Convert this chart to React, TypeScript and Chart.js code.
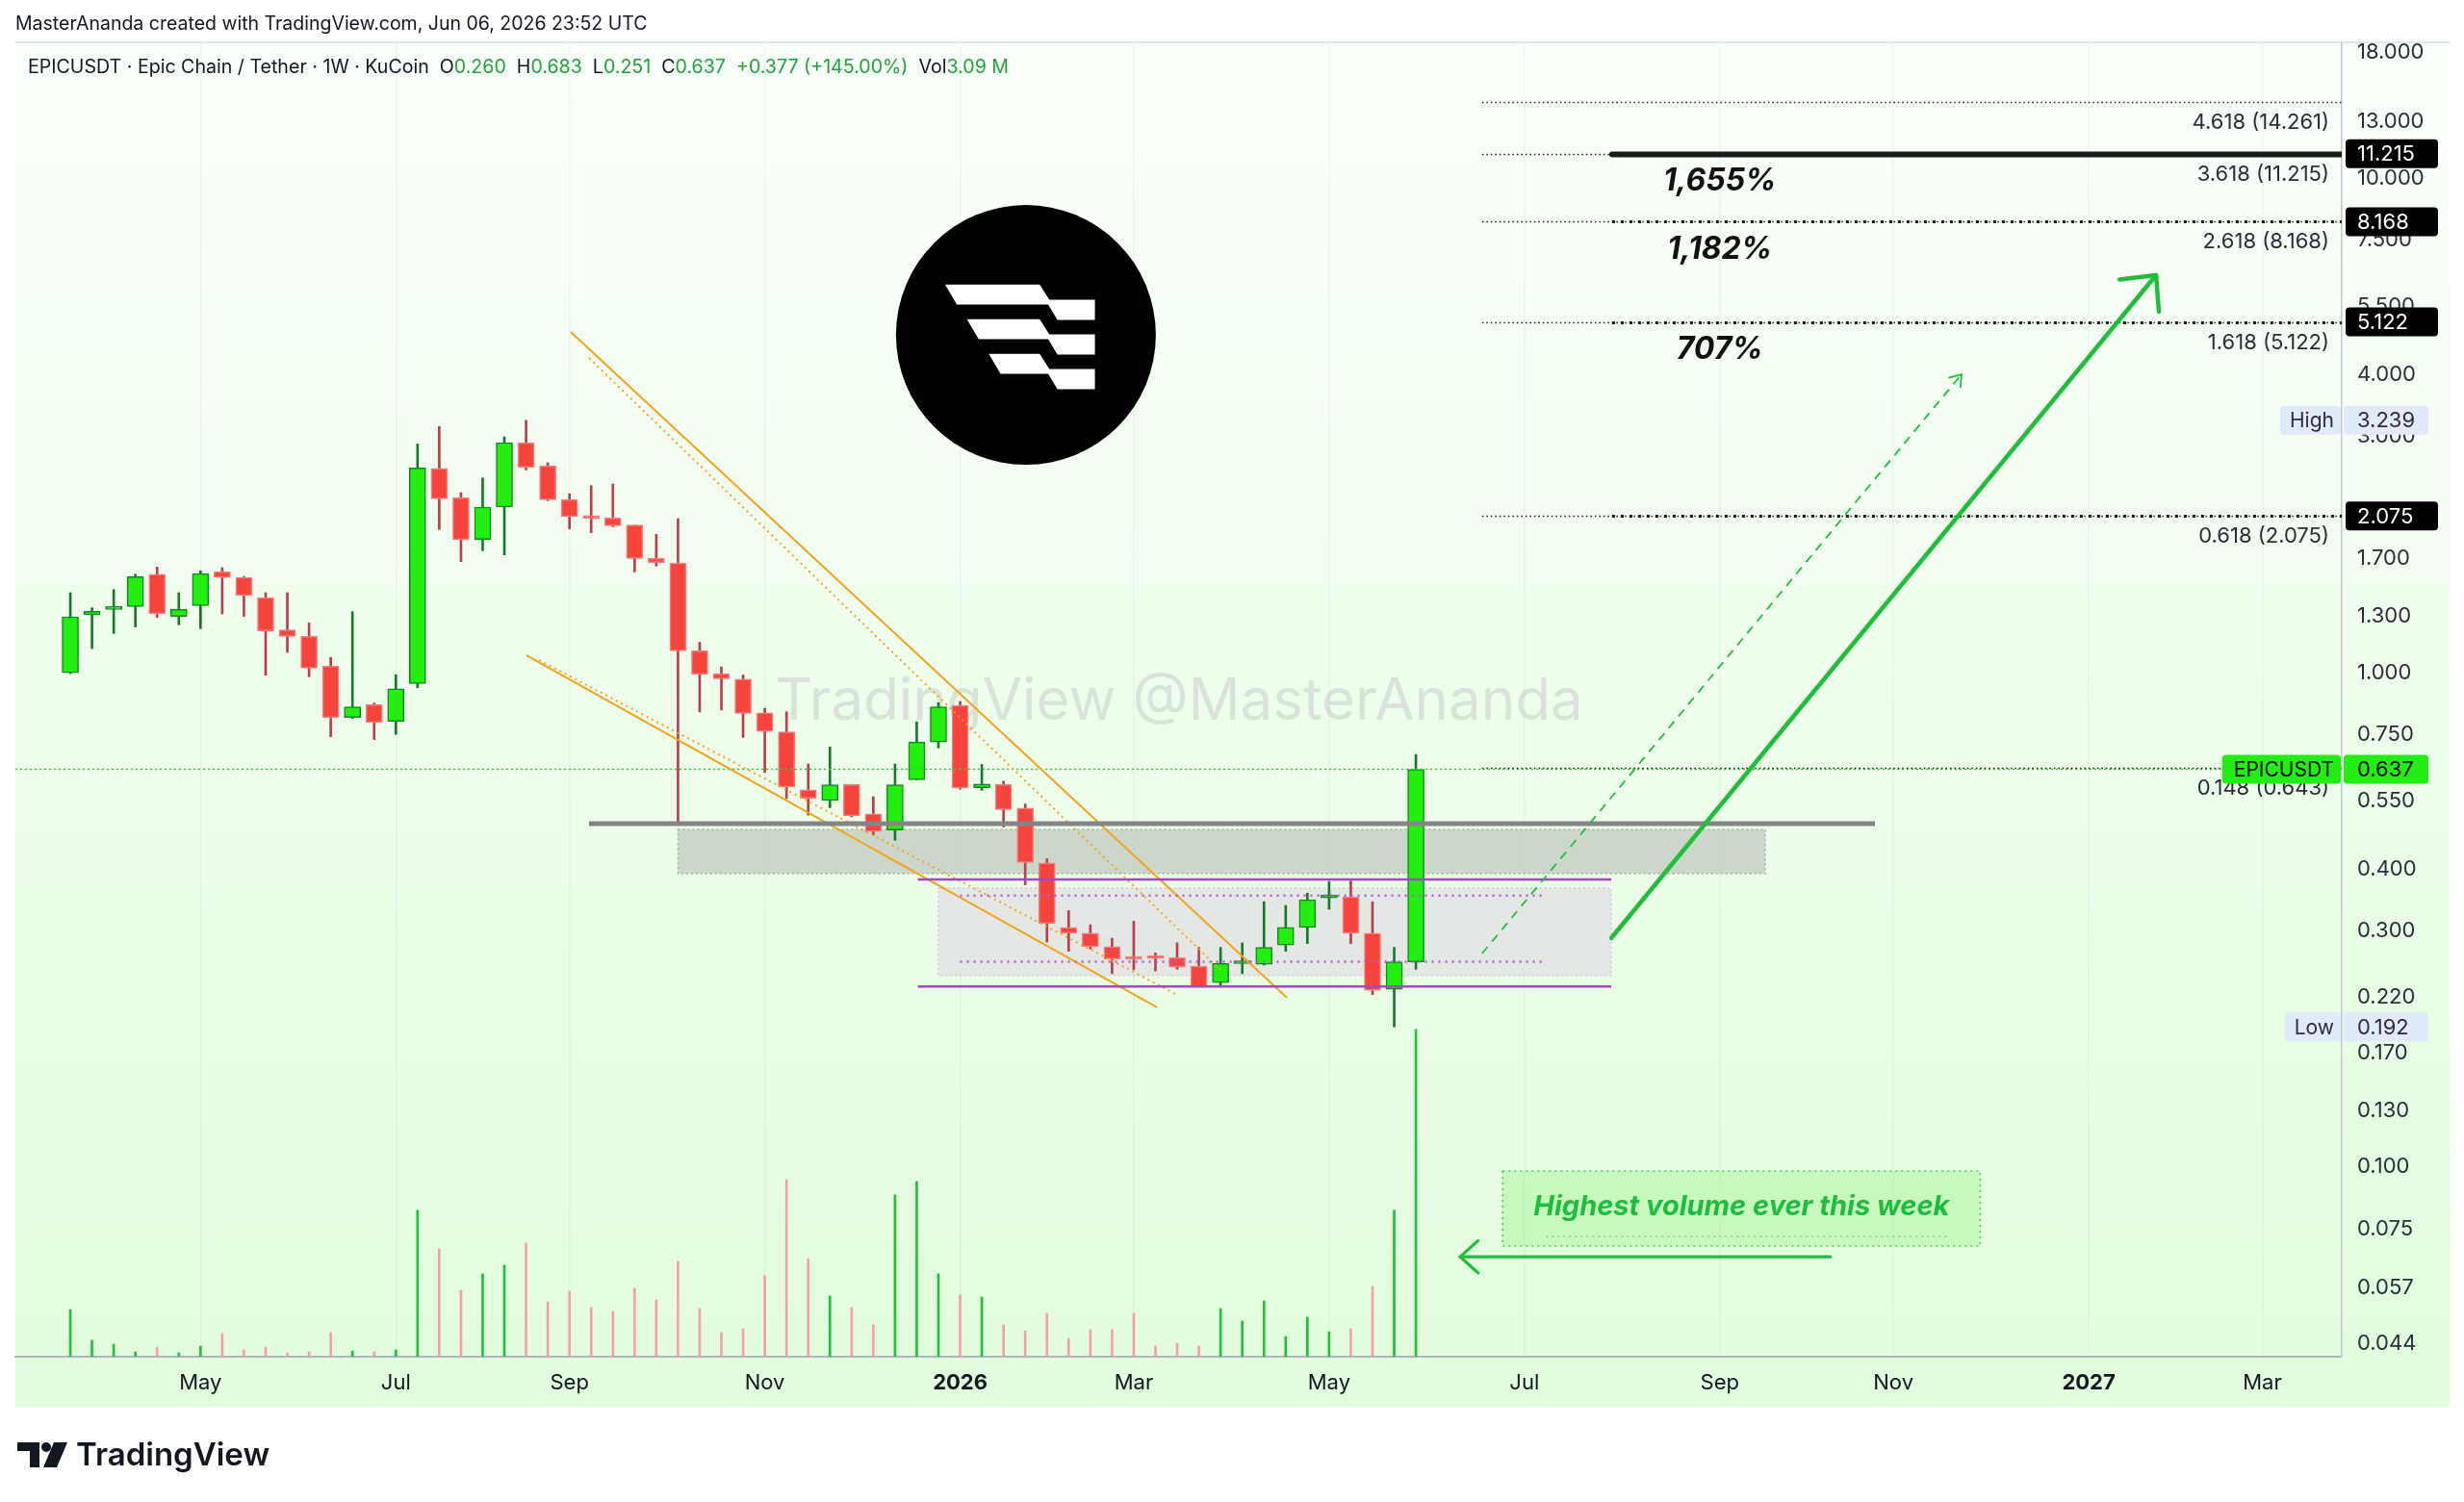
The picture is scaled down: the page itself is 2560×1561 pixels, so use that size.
import React, { useEffect, useRef } from "react";
import { Chart, registerables } from "chart.js";
Chart.register(...registerables);

// ---------- DATA ----------
const firstWeekMonday = "2025-03-24"; // week index 0 (weekly candles)
const opens = [0.999,1.309,1.342,1.360,1.581,1.299,1.366,1.601,1.558,1.418,1.220,1.184,1.030,0.811,0.861,0.797,0.950,2.587,2.257,1.859,2.162,2.919,2.617,2.237,2.076,2.054,1.988,1.702,1.667,1.107,0.9956,0.970,0.829,0.759,0.579,0.551,0.594,0.518,0.480,0.607,0.724,0.858,0.585,0.594,0.532,0.412,0.305,0.297,0.279,0.265,0.266,0.265,0.2547,0.236,0.2577,0.257,0.281,0.305,0.350,0.352,0.297,0.2286,0.260];
const highs = [1.451,1.352,1.472,1.581,1.635,1.451,1.606,1.630,1.565,1.451,1.451,1.261,1.073,1.328,0.868,0.990,2.901,3.146,2.312,2.476,2.998,3.239,2.657,2.301,2.389,2.407,1.988,1.904,2.048,1.152,1.027,0.989,0.847,0.833,0.653,0.707,0.594,0.561,0.653,0.795,0.869,0.874,0.652,0.603,0.542,0.420,0.330,0.309,0.290,0.314,0.271,0.284,0.278,0.278,0.284,0.344,0.338,0.358,0.378,0.379,0.344,0.278,0.683];
const lows = [0.995,1.118,1.200,1.236,1.293,1.249,1.227,1.314,1.299,0.988,1.099,0.981,0.742,0.808,0.732,0.750,0.932,1.947,1.677,1.764,1.730,2.570,2.227,1.952,1.918,1.973,1.598,1.642,0.495,0.832,0.840,0.739,0.628,0.556,0.515,0.533,0.511,0.469,0.458,0.607,0.704,0.581,0.578,0.487,0.372,0.285,0.273,0.276,0.246,0.2504,0.249,0.2512,0.2317,0.2317,0.246,0.256,0.273,0.283,0.332,0.283,0.2232,0.192,0.251];
const closes = [1.297,1.330,1.352,1.563,1.316,1.342,1.586,1.558,1.431,1.214,1.184,1.021,0.811,0.853,0.793,0.927,2.594,2.247,1.856,2.162,2.919,2.601,2.237,2.067,2.051,1.982,1.702,1.669,1.107,0.9925,0.972,0.827,0.760,0.587,0.557,0.593,0.513,0.477,0.593,0.724,0.853,0.584,0.595,0.528,0.413,0.311,0.297,0.279,0.263,0.263,0.264,0.2537,0.2317,0.258,0.260,0.278,0.305,0.347,0.353,0.297,0.2278,0.260,0.637];
const volumesM = [0.445,0.155,0.118,0.045,0.091,0.036,0.100,0.218,0.064,0.091,0.036,0.045,0.227,0.055,0.045,0.064,1.382,1.018,0.627,0.782,0.864,1.073,0.518,0.618,0.464,0.427,0.645,0.536,0.900,0.455,0.227,0.264,0.764,1.673,0.927,0.573,0.464,0.300,1.527,1.655,0.782,0.582,0.564,0.300,0.245,0.409,0.173,0.255,0.255,0.409,0.100,0.127,0.100,0.455,0.336,0.527,0.191,0.373,0.236,0.264,0.664,1.382,3.090];

const monthTickWeeks = [6, 15, 23, 32, 41, 49, 58, 67, 76, 84, 93, 101];
const monthTickLabels = ["May", "Jul", "Sep", "Nov", "2026", "Mar", "May", "Jul", "Sep", "Nov", "2027", "Mar"];
const priceTicks = [18, 13, 10, 7.5, 5.5, 4, 3, 2, 1.7, 1.3, 1, 0.75, 0.55, 0.4, 0.3, 0.22, 0.17, 0.13, 0.1, 0.075, 0.057, 0.044];

const fibRatios = [4.618, 3.618, 2.618, 1.618, 0.618, 0.148];
const fibPrices = [14.261, 11.215, 8.168, 5.122, 2.075, 0.643];
const fibBoxed = [false, true, true, true, true, false];
const fibHeavy = ["none", "solid", "dots", "dots", "dots", "none"];
const gainLabels = ["1,655%", "1,182%", "707%"];
const gainLevels = [11.215, 8.168, 5.122];

const lastPrice = 0.637;
const periodHigh = 3.239;
const periodLow = 0.192;
const symbolName = "EPICUSDT";

const headerTitle = "MasterAnanda created with TradingView.com, Jun 06, 2026 23:52 UTC";
const legendParts: [string, boolean][] = [
  ["EPICUSDT · Epic Chain / Tether · 1W · KuCoin  ", false],
  ["O", false], ["0.260", true], ["  H", false], ["0.683", true], ["  L", false], ["0.251", true],
  ["  C", false], ["0.637", true], ["  +0.377 (+145.00%)", true], ["  Vol", false], ["3.09 M", true],
];

// annotation anchors in data space: [weekIndex, price]
const trendSolid: [number, number][][] = [[[23.06, 4.887], [56.05, 0.220]], [[21.02, 1.084], [50.07, 0.2102]]];
const trendDotted: [number, number][][] = [[[23.9, 4.329], [53.08, 0.248]], [[21.6, 1.060], [51.0, 0.2228]]];
const supportLine = { from: 23.9, to: 83.15, price: 0.495 };
const supportZone = { from: 28.0, to: 78.1, top: 0.4817, bottom: 0.392 };
const rangeBox = { from: 40.0, to: 71.0, top: 0.3665, bottom: 0.2437 };
const rangeLines = { from: 39.05, to: 71.0, prices: [0.3815, 0.2317] };
const rangeMid = { from: 41.0, to: 67.9, prices: [0.354, 0.260] };
const fibStart = 65.05;
const fibHeavyStart = 71.04;
const bigArrow = { from: [71.0, 0.2903], to: [96.1, 6.365] };
const dashArrow = { from: [65.05, 0.2702], to: [87.14, 4.012] };
const volArrow = { from: [81.1, 0.0658], to: [64.04, 0.0658] };
const volNote = { from: 66.0, to: 88.0, top: 0.0981, bottom: 0.0692, text: "Highest volume ever this week" };
const logoAnchor = { x: 44.03, price: 4.82 };
const watermark = { x: 51.09, price: 0.8703, text: "TradingView @MasterAnanda" };

const FONT = "Inter, 'Noto Sans', sans-serif";
const GREEN_TXT = "#22a33a";

function arrowTo(ctx: CanvasRenderingContext2D, x1: number, y1: number, x2: number, y2: number, head: number, angDeg: number) {
  ctx.beginPath();
  ctx.moveTo(x1, y1);
  ctx.lineTo(x2, y2);
  ctx.stroke();
  ctx.setLineDash([]);
  const back = Math.atan2(y1 - y2, x1 - x2);
  const a = (angDeg * Math.PI) / 180;
  ctx.beginPath();
  ctx.moveTo(x2 + Math.cos(back + a) * head, y2 + Math.sin(back + a) * head);
  ctx.lineTo(x2, y2);
  ctx.lineTo(x2 + Math.cos(back - a) * head, y2 + Math.sin(back - a) * head);
  ctx.stroke();
}

function rrect(ctx: CanvasRenderingContext2D, x: number, y: number, w: number, h: number, r: number, fill: string) {
  ctx.fillStyle = fill;
  ctx.beginPath();
  ctx.roundRect(x, y, w, h, r);
  ctx.fill();
}

const overlayPlugin = {
  id: "overlay",
  beforeDraw(chart: any) {
    const { ctx, width, height, chartArea } = chart;
    const xs = chart.scales.x;
    const ys = chart.scales.y;
    ctx.save();
    ctx.fillStyle = "#ffffff";
    ctx.fillRect(0, 0, width, height);
    const top = chartArea.top - 1;
    const bottom = xs.bottom;
    const g = ctx.createLinearGradient(0, top, 0, bottom);
    g.addColorStop(0, "#fbfffb");
    g.addColorStop(1, "#e1fddc");
    ctx.fillStyle = g;
    ctx.fillRect(chartArea.left, top, ys.right - chartArea.left, bottom - top);
    ctx.strokeStyle = "#e3e6ea";
    ctx.lineWidth = 2;
    ctx.beginPath();
    ctx.moveTo(chartArea.left, top);
    ctx.lineTo(ys.right, top);
    ctx.stroke();
    ctx.restore();
  },
  beforeDatasetsDraw(chart: any) {
    const { ctx, chartArea } = chart;
    const X = (v: number) => chart.scales.x.getPixelForValue(v);
    const Y = (v: number) => chart.scales.y.getPixelForValue(v);
    ctx.save();
    ctx.beginPath();
    ctx.rect(chartArea.left, chartArea.top, chartArea.right - chartArea.left, chartArea.bottom - chartArea.top);
    ctx.clip();
    // watermark
    ctx.font = `60px ${FONT}`;
    ctx.fillStyle = "rgba(150,155,150,0.26)";
    ctx.textAlign = "center";
    ctx.textBaseline = "middle";
    ctx.fillText(watermark.text, X(watermark.x), Y(watermark.price));
    // support zone
    {
      const x1 = X(supportZone.from), x2 = X(supportZone.to), y1 = Y(supportZone.top), y2 = Y(supportZone.bottom);
      ctx.fillStyle = "rgba(192,202,190,0.75)";
      ctx.fillRect(x1, y1, x2 - x1, y2 - y1);
      ctx.strokeStyle = "#a7b0a5";
      ctx.lineWidth = 1.5;
      ctx.setLineDash([2, 3]);
      ctx.strokeRect(x1, y1, x2 - x1, y2 - y1);
      ctx.setLineDash([]);
    }
    // range box
    {
      const x1 = X(rangeBox.from), x2 = X(rangeBox.to), y1 = Y(rangeBox.top), y2 = Y(rangeBox.bottom);
      ctx.fillStyle = "rgba(226,228,228,0.85)";
      ctx.fillRect(x1, y1, x2 - x1, y2 - y1);
      ctx.strokeStyle = "rgba(210,170,225,0.8)";
      ctx.lineWidth = 1.2;
      ctx.setLineDash([2, 3]);
      ctx.strokeRect(x1, y1, x2 - x1, y2 - y1);
      ctx.setLineDash([]);
    }
    ctx.restore();
  },
  afterDatasetsDraw(chart: any) {
    const { ctx, chartArea } = chart;
    const X = (v: number) => chart.scales.x.getPixelForValue(v);
    const Y = (v: number) => chart.scales.y.getPixelForValue(v);
    ctx.save();
    ctx.beginPath();
    ctx.rect(chartArea.left, chartArea.top, chartArea.right - chartArea.left, chartArea.bottom - chartArea.top);
    ctx.clip();
    ctx.lineCap = "butt";

    // current price line
    ctx.strokeStyle = "#2ad42a";
    ctx.lineWidth = 1.5;
    ctx.setLineDash([2, 3]);
    ctx.beginPath();
    ctx.moveTo(chartArea.left, Y(lastPrice));
    ctx.lineTo(chartArea.right, Y(lastPrice));
    ctx.stroke();
    ctx.setLineDash([]);

    // orange wedge
    ctx.strokeStyle = "#f7a21b";
    ctx.lineWidth = 2;
    trendSolid.forEach(([a, b]) => {
      ctx.beginPath();
      ctx.moveTo(X(a[0]), Y(a[1]));
      ctx.lineTo(X(b[0]), Y(b[1]));
      ctx.stroke();
    });
    ctx.setLineDash([2, 4]);
    trendDotted.forEach(([a, b]) => {
      ctx.beginPath();
      ctx.moveTo(X(a[0]), Y(a[1]));
      ctx.lineTo(X(b[0]), Y(b[1]));
      ctx.stroke();
    });
    ctx.setLineDash([]);

    // support line
    ctx.strokeStyle = "#858585";
    ctx.lineWidth = 5;
    ctx.beginPath();
    ctx.moveTo(X(supportLine.from), Y(supportLine.price));
    ctx.lineTo(X(supportLine.to), Y(supportLine.price));
    ctx.stroke();

    // purple range lines
    ctx.strokeStyle = "#a548c8";
    ctx.lineWidth = 2.5;
    rangeLines.prices.forEach((p) => {
      ctx.beginPath();
      ctx.moveTo(X(rangeLines.from), Y(p));
      ctx.lineTo(X(rangeLines.to), Y(p));
      ctx.stroke();
    });
    ctx.setLineDash([2, 5]);
    ctx.strokeStyle = "#b65ad6";
    rangeMid.prices.forEach((p) => {
      ctx.beginPath();
      ctx.moveTo(X(rangeMid.from), Y(p));
      ctx.lineTo(X(rangeMid.to), Y(p));
      ctx.stroke();
    });
    ctx.setLineDash([]);

    // fib levels
    fibPrices.forEach((p, i) => {
      const y = Math.round(Y(p)) + 0.5;
      ctx.strokeStyle = "#1a1a1a";
      ctx.lineWidth = 1.3;
      ctx.setLineDash([1.5, 3]);
      ctx.beginPath();
      ctx.moveTo(X(fibStart), y);
      ctx.lineTo(chartArea.right, y);
      ctx.stroke();
      if (fibHeavy[i] === "dots") {
        ctx.lineWidth = 3;
        ctx.setLineDash([3, 6]);
        ctx.beginPath();
        ctx.moveTo(X(fibHeavyStart), y);
        ctx.lineTo(chartArea.right, y);
        ctx.stroke();
      } else if (fibHeavy[i] === "solid") {
        ctx.setLineDash([]);
        ctx.lineWidth = 6;
        ctx.lineCap = "round";
        ctx.beginPath();
        ctx.moveTo(X(fibHeavyStart), y);
        ctx.lineTo(chartArea.right + 5, y);
        ctx.stroke();
        ctx.lineCap = "butt";
      }
      ctx.setLineDash([]);
      ctx.font = `22px ${FONT}`;
      ctx.fillStyle = "#2a2e39";
      ctx.textAlign = "right";
      ctx.textBaseline = "middle";
      ctx.fillText(`${fibRatios[i].toFixed(3)} (${p.toFixed(3)})`, chartArea.right - 13, y + 21);
    });

    // gain labels
    ctx.font = `italic 700 32px ${FONT}`;
    ctx.fillStyle = "#111111";
    ctx.textAlign = "center";
    ctx.textBaseline = "middle";
    gainLabels.forEach((t, i) => ctx.fillText(t, X(76.0), Y(gainLevels[i]) + 29));

    // arrows
    ctx.strokeStyle = "#1fbf3c";
    ctx.lineCap = "round";
    ctx.lineJoin = "round";
    ctx.lineWidth = 4.5;
    arrowTo(ctx, X(bigArrow.from[0]), Y(bigArrow.from[1]), X(bigArrow.to[0]), Y(bigArrow.to[1]), 38, 44);
    ctx.lineWidth = 1.8;
    ctx.lineCap = "butt";
    ctx.setLineDash([9, 7]);
    arrowTo(ctx, X(dashArrow.from[0]), Y(dashArrow.from[1]), X(dashArrow.to[0]), Y(dashArrow.to[1]), 14, 35);
    ctx.setLineDash([]);
    ctx.lineCap = "round";
    ctx.lineWidth = 3.2;
    arrowTo(ctx, X(volArrow.from[0]), Y(volArrow.from[1]), X(volArrow.to[0]), Y(volArrow.to[1]), 25, 42);

    // volume note box
    {
      const x1 = X(volNote.from), x2 = X(volNote.to), y1 = Y(volNote.top), y2 = Y(volNote.bottom);
      ctx.fillStyle = "rgba(165,245,145,0.45)";
      ctx.fillRect(x1, y1, x2 - x1, y2 - y1);
      ctx.strokeStyle = "#3fd25a";
      ctx.lineWidth = 1.5;
      ctx.lineCap = "butt";
      ctx.setLineDash([2, 4]);
      ctx.strokeRect(x1, y1, x2 - x1, y2 - y1);
      ctx.beginPath();
      ctx.moveTo(x1 + 45, y2 - 10);
      ctx.lineTo(x2 - 35, y2 - 10);
      ctx.strokeStyle = "rgba(60,200,90,0.6)";
      ctx.stroke();
      ctx.setLineDash([]);
      ctx.font = `italic 700 29px ${FONT}`;
      ctx.fillStyle = "#1dbd3d";
      ctx.textAlign = "center";
      ctx.textBaseline = "middle";
      ctx.fillText(volNote.text, (x1 + x2) / 2, (y1 + y2) / 2 - 2);
    }

    // logo
    {
      const cx = X(logoAnchor.x), cy = Y(logoAnchor.price), r = 135;
      ctx.fillStyle = "#000000";
      ctx.beginPath();
      ctx.arc(cx, cy, r, 0, Math.PI * 2);
      ctx.fill();
      ctx.fillStyle = "#ffffff";
      for (let k = 0; k < 3; k++) {
        const dy = k * 36, ls = k * 22.7;
        const pts = [[-84 + ls, -52.3], [14.3, -52.3], [24.3, -36.7], [71.7, -36.7], [71.7, -15.7], [32.7, -15.7], [23.2, -31.7], [-71.7 + ls, -31.7]];
        ctx.beginPath();
        pts.forEach(([px, py], j) => (j ? ctx.lineTo(cx + px, cy + py + dy) : ctx.moveTo(cx + px, cy + py + dy)));
        ctx.closePath();
        ctx.fill();
      }
    }
    ctx.restore();
  },
  afterDraw(chart: any) {
    const { ctx, chartArea } = chart;
    const ys = chart.scales.y;
    const xs = chart.scales.x;
    const Y = (v: number) => ys.getPixelForValue(v);
    const axisX = chartArea.right;
    const labelX = axisX + 16;
    ctx.save();
    ctx.textBaseline = "middle";
    ctx.font = `22px ${FONT}`;
    // fib boxes
    fibPrices.forEach((p, i) => {
      if (!fibBoxed[i]) return;
      const y = Y(p);
      rrect(ctx, axisX + 4, y - 15, 96, 30, 4, "#000000");
      ctx.fillStyle = "#ffffff";
      ctx.textAlign = "left";
      ctx.fillText(p.toFixed(3), labelX, y + 1);
    });
    // high / low
    const hl: [string, number][] = [["High", periodHigh], ["Low", periodLow]];
    hl.forEach(([t, v]) => {
      const y = Y(v);
      ctx.font = `21px ${FONT}`;
      const w = ctx.measureText(t).width;
      rrect(ctx, axisX - w - 18, y - 15, w + 17, 30, 4, "#e0eafb");
      rrect(ctx, axisX + 2, y - 15, 88, 30, 4, "#e0eafb");
      ctx.fillStyle = "#2a2e39";
      ctx.textAlign = "right";
      ctx.fillText(t, axisX - 8, y + 1);
      ctx.textAlign = "left";
      ctx.font = `22px ${FONT}`;
      ctx.fillText(v.toFixed(3), labelX, y + 1);
    });
    // last price
    {
      const y = Y(lastPrice);
      ctx.font = `21px ${FONT}`;
      const w = ctx.measureText(symbolName).width;
      rrect(ctx, axisX - w - 20, y - 15, w + 19, 30, 4, "#22ee14");
      rrect(ctx, axisX + 2, y - 15, 88, 30, 4, "#22ee14");
      ctx.fillStyle = "#0b0b0b";
      ctx.textAlign = "right";
      ctx.fillText(symbolName, axisX - 8, y + 1);
      ctx.textAlign = "left";
      ctx.font = `22px ${FONT}`;
      ctx.fillText(lastPrice.toFixed(3), labelX, y + 1);
    }
    // header
    ctx.textAlign = "left";
    ctx.font = `19.5px ${FONT}`;
    ctx.fillStyle = "#131722";
    ctx.fillText(headerTitle, 16, 25);
    ctx.font = `19.6px ${FONT}`;
    let x = 29;
    legendParts.forEach(([t, green]) => {
      ctx.fillStyle = green ? GREEN_TXT : "#131722";
      ctx.fillText(t, x, 70);
      x += ctx.measureText(t).width;
    });
    // TradingView footer logo
    const by = xs.bottom + 50;
    ctx.fillStyle = "#131722";
    ctx.beginPath();
    ctx.moveTo(18, by - 13); ctx.lineTo(41, by - 13); ctx.lineTo(41, by + 13); ctx.lineTo(31, by + 13); ctx.lineTo(31, by - 4); ctx.lineTo(18, by - 4);
    ctx.closePath(); ctx.fill();
    ctx.beginPath(); ctx.arc(48, by - 8, 5, 0, Math.PI * 2); ctx.fill();
    ctx.beginPath();
    ctx.moveTo(56, by - 13); ctx.lineTo(70, by - 13); ctx.lineTo(59, by + 13); ctx.lineTo(45, by + 13);
    ctx.closePath(); ctx.fill();
    ctx.font = `600 33px ${FONT}`;
    ctx.fillText("TradingView", 79, by + 1);
    ctx.restore();
  },
};

export default function App() {
  const ref = useRef<HTMLCanvasElement | null>(null);
  useEffect(() => {
    if (!ref.current) return;
    document.body.style.margin = "0";
    document.body.style.overflow = "hidden";
    const idx = opens.map((_, i) => i);
    const up = opens.map((o, i) => closes[i] >= o);
    const chart = new Chart(ref.current, {
      type: "bar",
      data: {
        datasets: [
          {
            label: "Volume",
            data: idx.map((i) => ({ x: i, y: volumesM[i] })) as any,
            yAxisID: "vol",
            backgroundColor: up.map((u) => (u ? "#20c23c" : "#f2a2a2")),
            barThickness: 2,
            grouped: false,
            order: 3,
          } as any,
          {
            label: "Wicks",
            data: idx.map((i) => ({ x: i, y: [lows[i], highs[i]] })) as any,
            yAxisID: "y",
            backgroundColor: up.map((u) => (u ? "#177a28" : "#b8404a")),
            barThickness: 2,
            grouped: false,
            order: 2,
          } as any,
          {
            label: "Bodies",
            data: idx.map((i) => ({ x: i, y: [opens[i], closes[i]] })) as any,
            yAxisID: "y",
            backgroundColor: up.map((u) => (u ? "#22ef10" : "#f4443c")),
            borderColor: up.map((u) => (u ? "#118a1f" : "#f47c7c")),
            borderWidth: 1.5,
            borderSkipped: false,
            barThickness: 17,
            minBarLength: 3,
            grouped: false,
            order: 1,
          } as any,
        ],
      },
      options: {
        animation: false,
        responsive: false,
        devicePixelRatio: 1,
        layout: { padding: { left: 16, top: 45, right: 15, bottom: 99 } },
        plugins: { legend: { display: false }, tooltip: { enabled: false } },
        scales: {
          x: {
            type: "linear",
            offset: false,
            min: -2.53,
            max: 104.66,
            bounds: "data",
            afterBuildTicks: (s: any) => {
              s.ticks = monthTickWeeks.map((v) => ({ value: v }));
            },
            afterFit: (s: any) => {
              s.height = 52;
            },
            ticks: {
              autoSkip: false,
              maxRotation: 0,
              padding: 14,
              color: "#131722",
              font: (c: any) => {
                const lbl = c.tick ? monthTickLabels[monthTickWeeks.indexOf(c.tick.value)] : "";
                return { size: 22, family: FONT, weight: /^\d{4}$/.test(lbl || "") ? "bold" : "normal" };
              },
              callback: (v: any) => monthTickLabels[monthTickWeeks.indexOf(Number(v))] ?? "",
            },
            grid: { color: "rgba(120,130,140,0.07)", drawTicks: false, lineWidth: 1.5, offset: false },
            border: { color: "#b2b5be", width: 2 },
          } as any,
          y: {
            type: "logarithmic",
            position: "right",
            min: 0.04131,
            max: 18.75,
            bounds: "data",
            afterBuildTicks: (s: any) => {
              s.ticks = priceTicks.map((v) => ({ value: v }));
            },
            afterFit: (s: any) => {
              s.width = 112;
            },
            ticks: {
              autoSkip: false,
              padding: 16,
              color: "#2a2e39",
              font: { size: 22, family: FONT },
              callback: (v: any) => Number(v).toFixed(3),
            },
            grid: { display: false, drawTicks: false },
            border: { color: "#c3c6cc", width: 1.5 },
          } as any,
          vol: { type: "linear", display: false, min: 0, max: 12.4 } as any,
        },
      },
      plugins: [overlayPlugin as any],
    });
    return () => chart.destroy();
  }, []);
  return (
    <canvas
      ref={ref}
      width={2560}
      height={1561}
      style={{ position: "absolute", left: 0, top: 0, width: 2560, height: 1561 }}
    />
  );
}
